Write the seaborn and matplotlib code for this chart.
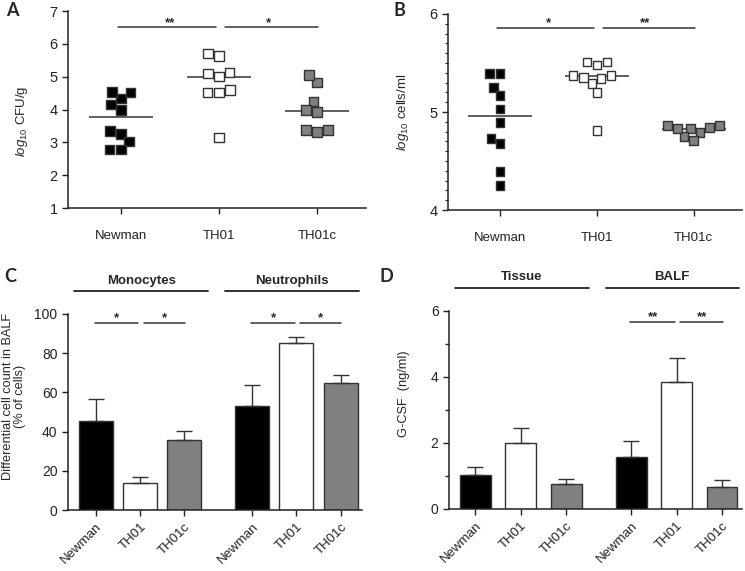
"""
Four-panel figure: bacterial load, BALF cell counts, differential counts and G-CSF
"""

import numpy as np
import pandas as pd
import matplotlib
matplotlib.use('Agg')
import matplotlib.pyplot as plt
from matplotlib.ticker import MultipleLocator
import seaborn as sns

# ---- data ----
strains = ['Newman', 'TH01', 'TH01c']

# panel A: log10 CFU/g
cfu_newman = [4.34, 4.54, 4.51, 4.16, 3.99, 3.35, 3.25, 3.02, 2.79, 2.79]
cfu_th01 = [5.71, 5.63, 5.12, 5.00, 5.10, 4.51, 4.51, 4.59, 3.15]
cfu_th01c = [4.82, 5.05, 4.24, 3.99, 3.93, 3.38, 3.32, 3.38]
cfu_medians = [3.77, 5.00, 3.96]

# panel B: log10 cells/ml
cells_newman = [5.39, 5.39, 5.25, 5.17, 5.03, 4.89, 4.73, 4.68, 4.39, 4.25]
cells_th01 = [5.51, 5.48, 5.51, 5.37, 5.34, 5.29, 5.35, 5.37, 5.20, 4.81]
cells_th01c = [4.83, 4.86, 4.79, 4.84, 4.71, 4.75, 4.86, 4.83]
cells_medians = [4.96, 5.37, 4.83]

# panel C: differential cell count in BALF (% of cells)
cell_types = ['Monocytes', 'Neutrophils']
diff_newman = [45.4, 53.2]
diff_th01 = [13.9, 85.0]
diff_th01c = [35.7, 64.8]
diff_err_newman = [11.1, 10.7]
diff_err_th01 = [3.1, 3.3]
diff_err_th01c = [4.4, 3.9]

# panel D: G-CSF (ng/ml)
sites = ['Tissue', 'BALF']
gcsf_newman = [1.03, 1.59]
gcsf_th01 = [1.99, 3.85]
gcsf_th01c = [0.75, 0.67]
gcsf_err_newman = [0.25, 0.48]
gcsf_err_th01 = [0.45, 0.72]
gcsf_err_th01c = [0.17, 0.20]

# significance brackets (index pairs, label)
sig_a = [(0, 1, '**'), (1, 2, '*')]
sig_b = [(0, 1, '*'), (1, 2, '**')]
sig_c = [(0, 1, '*'), (1, 2, '*'), (3, 4, '*'), (4, 5, '*')]
sig_d = [(3, 4, '**'), (4, 5, '**')]

# ---- style ----
sns.set_theme(style='ticks')
plt.rcParams['font.family'] = ['Liberation Sans', 'DejaVu Sans']
plt.rcParams['mathtext.fontset'] = 'custom'
plt.rcParams['mathtext.rm'] = 'Liberation Sans'
plt.rcParams['mathtext.it'] = 'Liberation Sans:italic'
plt.rcParams['axes.linewidth'] = 1.1
plt.rcParams['axes.edgecolor'] = '#222222'
plt.rcParams['xtick.major.size'] = 4
plt.rcParams['ytick.major.size'] = 4
plt.rcParams['xtick.major.width'] = 1.0
plt.rcParams['ytick.major.width'] = 1.0
plt.rcParams['xtick.color'] = '#222222'
plt.rcParams['ytick.color'] = '#222222'

palette = {'Newman': '#000000', 'TH01': '#ffffff', 'TH01c': '#808080'}
EDGE = '#333333'


def dot_panel(ax, groups, medians, sig, sig_y, size):
    df = pd.DataFrame({
        'strain': np.repeat(strains, [len(g) for g in groups]),
        'value': np.concatenate(groups),
    })
    sns.swarmplot(data=df, x='strain', y='value', hue='strain', order=strains,
                  palette=palette, marker='s', size=size, edgecolor=EDGE,
                  linewidth=1, legend=False, ax=ax)
    xs = np.arange(len(strains))
    ax.hlines(medians, xs - 0.33, xs + 0.33, color=EDGE, lw=1.1, zorder=1)
    for i, j, label in sig:
        x0 = i - 0.03 if i == 0 else i + 0.06
        ax.plot([x0, j - 0.03 if i == 0 else j + 0.01], [sig_y, sig_y],
                color=EDGE, lw=1.1, clip_on=False)
        ax.annotate(label, ((i + j) / 2, sig_y), xytext=(0, 1),
                    textcoords='offset points', ha='center', va='baseline',
                    fontsize=9.5, fontweight='bold')
    ax.set_xlim(-0.54, 2.5)
    ax.set_xlabel('')
    ax.tick_params(axis='x', labelsize=9.5, pad=12)
    ax.tick_params(axis='y', labelsize=10.5)
    sns.despine(ax=ax)


def bar_panel(ax, groups, means, errs, width, gap, headers, sig, sig_y):
    df = pd.DataFrame({
        'group': np.tile(groups, len(strains)),
        'strain': np.repeat(strains, len(groups)),
        'value': np.concatenate(means),
        'err': np.concatenate(errs),
    })
    sns.barplot(data=df, x='group', y='value', hue='strain', order=groups,
                hue_order=strains, palette=palette, width=width, gap=gap,
                edgecolor=EDGE, linewidth=1, errorbar=None, legend=False, ax=ax)
    bars = sorted(ax.patches, key=lambda p: p.get_x())
    centers = np.array([b.get_x() + b.get_width() / 2 for b in bars])
    heights = np.array([b.get_height() for b in bars])
    order = df.sort_values(['group', 'strain'],
                           key=lambda s: s.map({g: k for k, g in enumerate(list(groups) + strains)}))
    err = order['err'].to_numpy()
    ax.errorbar(centers, heights, yerr=[np.zeros_like(err), err], fmt='none',
                ecolor=EDGE, elinewidth=1, capsize=5.5, capthick=1, zorder=1)
    ax.set_xticks(centers)
    ax.set_xticklabels(strains * len(groups), rotation=45, ha='right',
                       rotation_mode='anchor', fontsize=9.5)
    ax.tick_params(axis='x', pad=4)
    ax.tick_params(axis='y', labelsize=10)
    for i, j, label in sig:
        x0 = centers[i] - 0.005 if i % 3 == 0 else centers[i] + 0.025
        x1 = centers[j] - 0.01 if i % 3 == 0 else centers[j] + 0.005
        ax.plot([x0, x1], [sig_y, sig_y], color=EDGE, lw=1.1, clip_on=False)
        ax.annotate(label, ((x0 + x1) / 2, sig_y), xytext=(0, 1),
                    textcoords='offset points', ha='center', va='baseline',
                    fontsize=9.5, fontweight='bold')
    trans = ax.get_xaxis_transform()
    for (x0, x1), name in zip([(-0.42, 0.435), (0.545, 1.40)], headers):
        ax.plot([x0, x1], [1.115, 1.115], color='#222222', lw=1.3,
                transform=trans, clip_on=False)
        ax.text((x0 + x1) / 2, 1.17, name, transform=trans, ha='center',
                va='center', fontsize=9.5, fontweight='bold')
    ax.set_xlim(-0.46, 1.42)
    ax.set_xlabel('')
    sns.despine(ax=ax)


fig = plt.figure(figsize=(7.45, 5.71), dpi=100)
ax_a = fig.add_axes([0.0913, 0.6357, 0.400, 0.345])
ax_b = fig.add_axes([0.6013, 0.6322, 0.3946, 0.3433])
ax_c = fig.add_axes([0.0913, 0.1068, 0.3946, 0.3433])
ax_d = fig.add_axes([0.6027, 0.1086, 0.3933, 0.3468])

# A
dot_panel(ax_a, [cfu_newman, cfu_th01, cfu_th01c], cfu_medians, sig_a, 6.51, 6.8)
ax_a.set_ylim(1, 7)
ax_a.set_yticks(range(1, 8))
ax_a.set_ylabel(r'$\mathit{log}_{10}$ CFU/g', fontsize=9.5)
ax_a.yaxis.set_label_coords(-0.128, 0.44)

# B
dot_panel(ax_b, [cells_newman, cells_th01, cells_th01c], cells_medians, sig_b, 5.86, 6.2)
ax_b.set_ylim(4, 6)
ax_b.set_yticks([4, 5, 6])
ax_b.yaxis.set_minor_locator(MultipleLocator(0.1))
ax_b.tick_params(axis='y', which='minor', length=2.5, width=0.8)
ax_b.set_ylabel(r'$\mathit{log}_{10}$ cells/ml', fontsize=9.5)
ax_b.yaxis.set_label_coords(-0.126, 0.5)

# C
bar_panel(ax_c, cell_types, [diff_newman, diff_th01, diff_th01c],
          [diff_err_newman, diff_err_th01, diff_err_th01c],
          0.85, 0.23, cell_types, sig_c, 95.4)
ax_c.set_ylim(0, 100)
ax_c.set_yticks(range(0, 101, 20))
ax_c.set_ylabel('Differential cell count in BALF\n(% of cells)', fontsize=9.2,
                linespacing=1.0)
ax_c.yaxis.set_label_coords(-0.143, 0.58)

# D
bar_panel(ax_d, sites, [gcsf_newman, gcsf_th01, gcsf_th01c],
          [gcsf_err_newman, gcsf_err_th01, gcsf_err_th01c],
          0.875, 0.32, sites, sig_d, 5.67)
ax_d.set_ylim(0, 6)
ax_d.set_yticks([0, 2, 4, 6])
ax_d.yaxis.set_minor_locator(MultipleLocator(1))
ax_d.tick_params(axis='y', which='minor', length=3, width=1)
ax_d.set_ylabel('G-CSF  (ng/ml)', fontsize=9.2)
ax_d.yaxis.set_label_coords(-0.133, 0.58)

# panel letters
for x, y, letter in [(12, 10, 'A'), (399, 10, 'B'), (10, 276, 'C'), (386, 276, 'D')]:
    fig.text(x / 745, 1 - y / 571, letter, ha='center', va='center',
             fontsize=13, fontweight='bold', family=['Lato', 'DejaVu Sans'])

fig.savefig('out.png', dpi=100)
